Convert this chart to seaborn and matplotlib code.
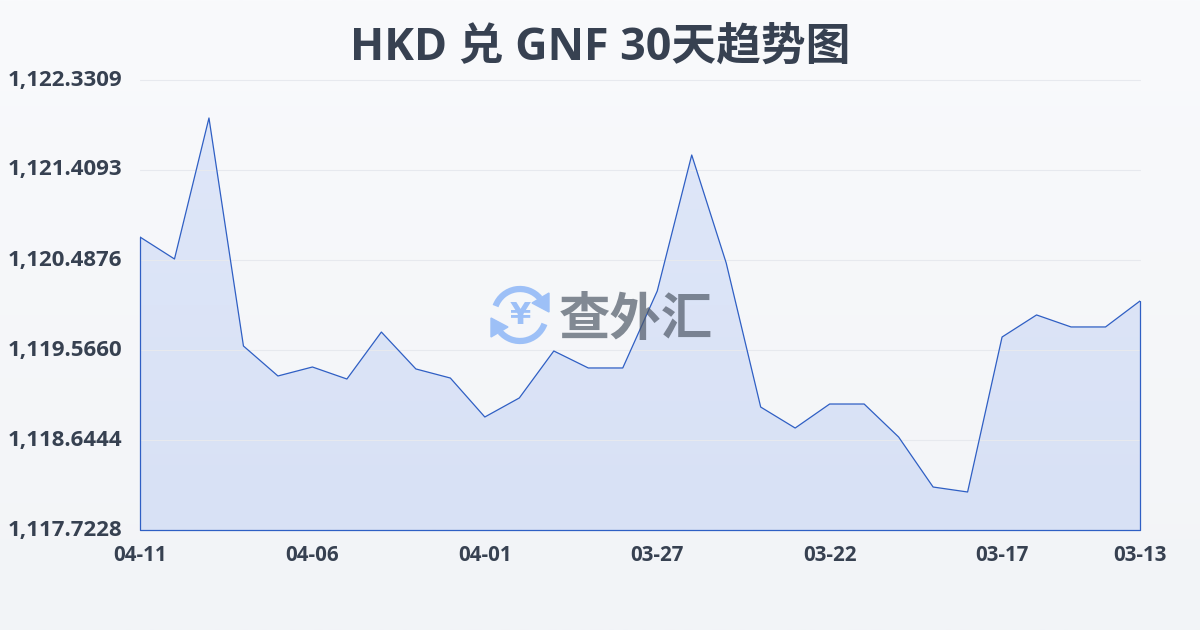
import numpy as np
import pandas as pd
import matplotlib
matplotlib.use('Agg')
import matplotlib.pyplot as plt
import seaborn as sns
from matplotlib.patches import Arc, Polygon

# ── Dados ─────────────────────────────────────────────────────
dates = ['04-11', '04-10', '04-09', '04-08', '04-07', '04-06', '04-05', '04-04',
         '04-03', '04-02', '04-01', '03-31', '03-30', '03-29', '03-28', '03-27',
         '03-26', '03-25', '03-24', '03-23', '03-22', '03-21', '03-20', '03-19',
         '03-18', '03-17', '03-16', '03-15', '03-14', '03-13']
rates = [1120.723, 1120.498, 1121.942, 1119.607, 1119.300, 1119.392, 1119.269, 1119.750,
         1119.372, 1119.279, 1118.880, 1119.075, 1119.556, 1119.382, 1119.382, 1120.170,
         1121.563, 1120.457, 1118.982, 1118.767, 1119.013, 1119.013, 1118.675, 1118.163,
         1118.112, 1119.699, 1119.925, 1119.802, 1119.802, 1120.068]
y_ticks = [1117.7228, 1118.6444, 1119.5660, 1120.4876, 1121.4093, 1122.3309]
x_tick_labels = ['04-11', '04-06', '04-01', '03-27', '03-22', '03-17', '03-13']
x_tick_pos = [0, 5, 10, 15, 20, 25, 29]

TEXT = '#374151'
LINE = '#2f5fc4'
FONT = ['Open Sans', 'Noto Sans CJK SC', 'DejaVu Sans']

sns.set_theme(style='white')
plt.rcParams['font.family'] = FONT

df = pd.DataFrame({'idx': range(len(dates)), 'rate': rates})

fig = plt.figure(figsize=(12, 6.3), dpi=100)

# fundo em degradê
bg = fig.add_axes([0, 0, 1, 1], zorder=0)
bg.imshow(np.linspace(0, 1, 256).reshape(-1, 1), aspect='auto', extent=[0, 1, 0, 1],
          cmap=matplotlib.colors.LinearSegmentedColormap.from_list('bg', ['#f9fafc', '#f2f4f7']))
bg.axis('off')

ax = fig.add_axes([140 / 1200, 1 - 530 / 630, 1000 / 1200, 450 / 630], zorder=1)
ax.patch.set_alpha(0)
ax.set_xlim(0, 29)
ax.set_ylim(y_ticks[0], y_ticks[-1])

# área com degradê
grad = ax.imshow(np.linspace(0, 1, 256).reshape(-1, 1), aspect='auto',
                 extent=[0, 29, y_ticks[0], y_ticks[-1]], zorder=1,
                 cmap=matplotlib.colors.LinearSegmentedColormap.from_list('fill', ['#dfe7f9', '#d8e1f5']))
clip = Polygon(list(zip(df['idx'], df['rate'])) + [(29, y_ticks[0]), (0, y_ticks[0])],
               closed=True, transform=ax.transData, facecolor='none', edgecolor='none')
ax.add_patch(clip)
grad.set_clip_path(clip)

for v in y_ticks[1:]:
    ax.axhline(v, color='#e7e9ee', lw=0.8, zorder=2, clip_on=False)

sns.lineplot(data=df, x='idx', y='rate', ax=ax, color=LINE, lw=0.9, zorder=5)
ax.plot([0, 0, 29, 29], [rates[0], y_ticks[0], y_ticks[0], rates[-1]], color=LINE, lw=0.9,
        zorder=5, clip_on=False)

ax.set_xlabel('')
ax.set_ylabel('')
ax.set_xticks(x_tick_pos)
ax.set_xticklabels(x_tick_labels, fontsize=14.8, fontweight='bold', color=TEXT)
ax.set_yticks(y_ticks)
ax.set_yticklabels([f'{v:,.4f}' for v in y_ticks], fontsize=16, fontweight='bold', color=TEXT,
                   va='center')
ax.tick_params(axis='x', length=6, width=0.8, color='#e3e6ec', pad=4.5)
ax.tick_params(axis='y', length=0, pad=13)
sns.despine(ax=ax, left=True, bottom=True)

# título
fig.text(0.5, 1 - 48 / 630, 'HKD 兑 GNF 30天趋势图', ha='center', va='center',
         fontsize=32.2, fontweight='bold', color=TEXT)

# marca d'água
wm = fig.add_axes([0, 0, 1, 1], zorder=3)
wm.set_xlim(0, 1200)
wm.set_ylim(630, 0)
wm.axis('off')
wm.patch.set_alpha(0)
BLUE = '#9dc0f7'
wm.add_patch(Arc((520, 315), 52, 52, theta1=200, theta2=320, color=BLUE, lw=4.5))
wm.add_patch(Arc((520, 315), 52, 52, theta1=20, theta2=140, color=BLUE, lw=4.5))
wm.add_patch(Polygon([(549, 312), (532, 303), (549, 293)], closed=True, color=BLUE))
wm.add_patch(Polygon([(491, 318), (508, 327), (491, 337)], closed=True, color=BLUE))
wm.text(520, 315, '¥', ha='center', va='center', fontsize=22, fontweight='bold', color=BLUE,
        family='DejaVu Sans')
wm.text(636, 322, '查外汇', ha='center', va='center', fontsize=37, fontweight='bold',
        color='#4b5563', alpha=0.68)

fig.savefig('out.png', dpi=100)
